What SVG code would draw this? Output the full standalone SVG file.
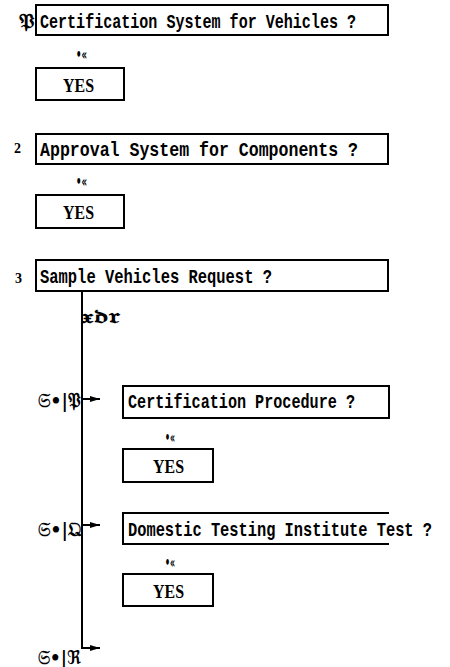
<svg xmlns="http://www.w3.org/2000/svg" width="450" height="667" viewBox="0 0 450 667">
  <style>
    .box { fill: #fff; stroke: #000; stroke-width: 2; }
    .edge { fill: none; stroke: #000; stroke-width: 2; }
    .t { font-family: "Liberation Mono", "DejaVu Sans Mono", monospace; font-weight: bold; font-size: 21px; fill: #000; }
    .yes { font-family: "Liberation Serif", "DejaVu Serif", serif; font-weight: bold; font-size: 19px; fill: #000; }
    .num { font-family: "Liberation Serif", "DejaVu Serif", serif; font-weight: bold; font-size: 14px; fill: #000; }
    .sym { font-family: "DejaVu Serif", "DejaVu Sans", serif; font-weight: bold; font-size: 19px; fill: #000; }
    .mark { font-family: "DejaVu Sans", sans-serif; font-size: 15px; font-weight: bold; fill: #000; }
  </style>
  <defs>
    <marker id="arrow" markerWidth="10" markerHeight="6" refX="10" refY="3" orient="auto" markerUnits="userSpaceOnUse">
      <path d="M0,0 L10,3 L0,6 Z" fill="#000"/>
    </marker>
  </defs>

  <rect width="450" height="667" fill="#fff"/>

  <!-- question 1 -->
  <g id="q1">
    <text class="sym" x="19" y="28" textLength="16" lengthAdjust="spacingAndGlyphs">𝔓</text>
    <rect class="box" x="36" y="5" width="352" height="30"/>
    <text class="t" x="40" y="28" textLength="316" lengthAdjust="spacingAndGlyphs">Certification System for Vehicles ?</text>
  </g>
  <g id="m1"><text class="mark" x="76" y="60" textLength="11" lengthAdjust="spacingAndGlyphs">•«</text></g>
  <g id="yes1">
    <rect class="box" x="36" y="68" width="88" height="32"/>
    <text class="yes" x="63" y="92" textLength="31" lengthAdjust="spacingAndGlyphs">YES</text>
  </g>

  <!-- question 2 -->
  <g id="q2">
    <text class="num" x="14" y="153">2</text>
    <rect class="box" x="36" y="134" width="352" height="30"/>
    <text class="t" x="40" y="156" textLength="318" lengthAdjust="spacingAndGlyphs">Approval System for Components ?</text>
  </g>
  <g id="m2"><text class="mark" x="76" y="187" textLength="11" lengthAdjust="spacingAndGlyphs">•«</text></g>
  <g id="yes2">
    <rect class="box" x="36" y="195" width="88" height="33"/>
    <text class="yes" x="63" y="219" textLength="31" lengthAdjust="spacingAndGlyphs">YES</text>
  </g>

  <!-- question 3 -->
  <g id="q3">
    <text class="num" x="15" y="283">3</text>
    <rect class="box" x="36" y="260" width="352" height="31"/>
    <text class="t" x="40" y="283" textLength="232" lengthAdjust="spacingAndGlyphs">Sample Vehicles Request ?</text>
  </g>
  <g id="branch-label"><text class="sym" x="81" y="323" textLength="39" lengthAdjust="spacingAndGlyphs">𝔵𝔡𝔯</text></g>

  <!-- branch 1 -->
  <g id="b1-label"><text class="sym" x="38" y="407" textLength="43" lengthAdjust="spacingAndGlyphs">𝔖•|𝔓</text></g>
  <g id="cp">
    <rect class="box" x="123" y="386" width="266" height="32"/>
    <text class="t" x="128" y="408" textLength="227" lengthAdjust="spacingAndGlyphs">Certification Procedure ?</text>
  </g>
  <g id="m3"><text class="mark" x="165" y="443" textLength="10" lengthAdjust="spacingAndGlyphs">•«</text></g>
  <g id="yes3">
    <rect class="box" x="123" y="449" width="90" height="33"/>
    <text class="yes" x="153" y="473" textLength="31" lengthAdjust="spacingAndGlyphs">YES</text>
  </g>

  <!-- branch 2 -->
  <g id="b2-label"><text class="sym" x="38" y="536" textLength="43" lengthAdjust="spacingAndGlyphs">𝔖•|𝔔</text></g>
  <g id="dt">
    <path class="edge" d="M389,513 H123 V544 H389"/>
    <text class="t" x="128" y="536" textLength="304" lengthAdjust="spacingAndGlyphs">Domestic Testing Institute Test ?</text>
  </g>
  <g id="m4"><text class="mark" x="165" y="568" textLength="10" lengthAdjust="spacingAndGlyphs">•«</text></g>
  <g id="yes4">
    <rect class="box" x="123" y="574" width="90" height="32"/>
    <text class="yes" x="153" y="598" textLength="31" lengthAdjust="spacingAndGlyphs">YES</text>
  </g>

  <!-- branch 3 -->
  <g id="b3-label"><text class="sym" x="38" y="664" textLength="43" lengthAdjust="spacingAndGlyphs">𝔖•|ℜ</text></g>

  <!-- connectors -->
  <g id="connectors">
    <path class="edge" d="M82,291 V648 H100" marker-end="url(#arrow)"/>
    <path class="edge" d="M82,399 H100" marker-end="url(#arrow)"/>
    <path class="edge" d="M82,525 H100" marker-end="url(#arrow)"/>
  </g>
</svg>
